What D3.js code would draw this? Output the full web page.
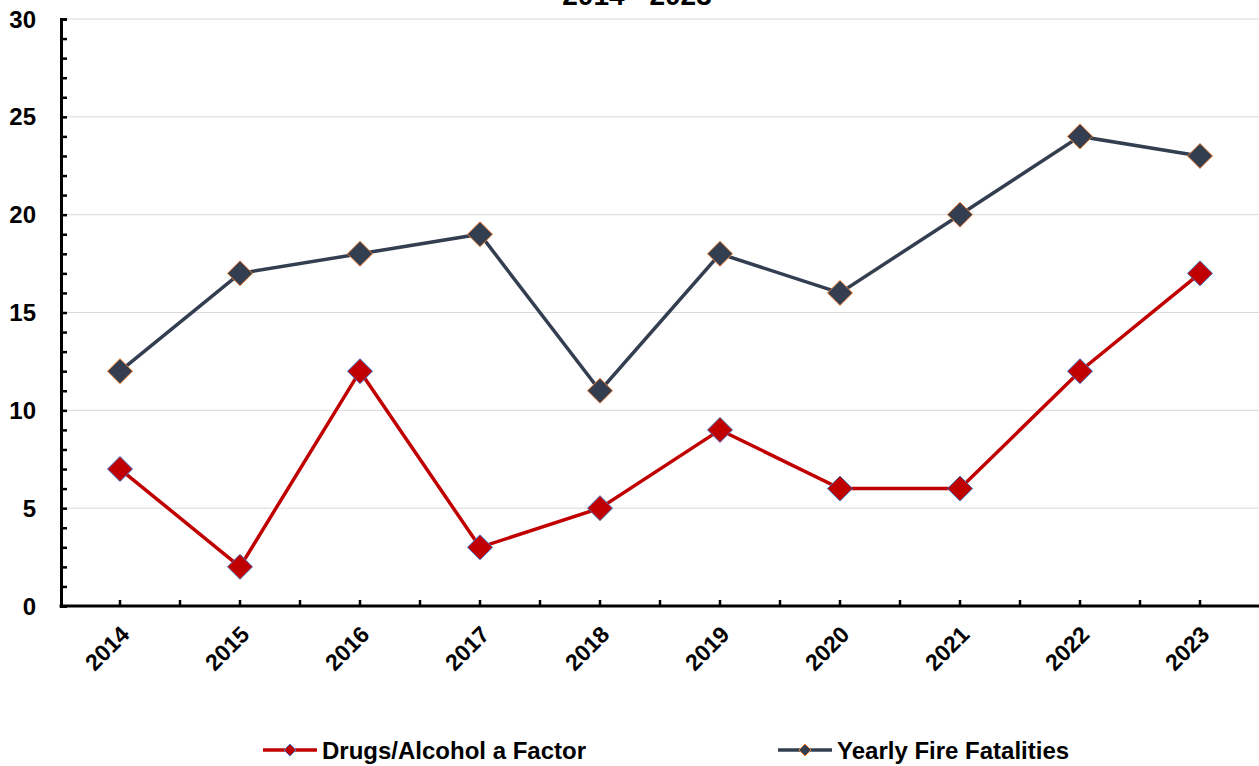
<!DOCTYPE html>
<html>
<head>
<meta charset="utf-8">
<script src="https://cdn.jsdelivr.net/npm/d3@7"></script>
<style>
  body { margin: 0; background: #fff; }
  text { font-family: Arial, "Liberation Sans", sans-serif; font-weight: bold; }
</style>
</head>
<body>
<div id="chart"></div>
<script>
const years = ['2014', '2015', '2016', '2017', '2018', '2019', '2020', '2021', '2022', '2023'];
const drugsAlcohol = [7, 2, 12, 3, 5, 9, 6, 6, 12, 17];
const yearlyFatalities = [12, 17, 18, 19, 11, 18, 16, 20, 24, 23];
const yTicks = [0, 5, 10, 15, 20, 25, 30];
const titleText = '2014 - 2023';

const width = 1259, height = 766;
const margin = { top: 19, right: 0, bottom: 160, left: 61 };

const svg = d3.select('#chart').append('svg')
  .attr('width', width)
  .attr('height', height);

const x = d3.scaleBand()
  .domain(years)
  .range([margin.left - 1, width + 1]);

const y = d3.scaleLinear()
  .domain([0, 30])
  .range([height - margin.bottom, margin.top]);

const xc = d => x(d) + x.bandwidth() / 2;

// title (cut off at the top edge, as in the source)
svg.append('text')
  .attr('x', 637)
  .attr('y', 5)
  .attr('text-anchor', 'middle')
  .attr('font-size', 28)
  .attr('fill', '#000')
  .text(titleText);

// grid
svg.append('g')
  .selectAll('line')
  .data(yTicks.filter(d => d > 0))
  .join('line')
  .attr('x1', margin.left)
  .attr('x2', width)
  .attr('y1', d => y(d))
  .attr('y2', d => y(d))
  .attr('stroke', '#d9d9d9')
  .attr('stroke-width', 1);

// y axis
const yAxis = d3.axisRight(y)
  .tickValues(d3.range(0, 31, 1))
  .tickSize(6)
  .tickFormat('');

svg.append('g')
  .attr('transform', `translate(${margin.left},0)`)
  .call(yAxis)
  .call(g => g.select('.domain').attr('stroke', '#000').attr('stroke-width', 3))
  .call(g => g.selectAll('.tick line').attr('stroke', '#000').attr('stroke-width', 2.5));

svg.append('g')
  .selectAll('text')
  .data(yTicks)
  .join('text')
  .attr('x', 36)
  .attr('y', d => y(d))
  .attr('dy', '0.36em')
  .attr('text-anchor', 'end')
  .attr('font-size', 24)
  .attr('fill', '#000')
  .text(d => d);

// x axis
const xEdges = [];
years.forEach(d => { xEdges.push(x(d)); xEdges.push(xc(d)); });

svg.append('line')
  .attr('x1', margin.left - 1.5)
  .attr('x2', width)
  .attr('y1', y(0))
  .attr('y2', y(0))
  .attr('stroke', '#000')
  .attr('stroke-width', 3);

svg.append('g')
  .selectAll('line')
  .data(xEdges.slice(1))
  .join('line')
  .attr('x1', d => d)
  .attr('x2', d => d)
  .attr('y1', y(0))
  .attr('y2', y(0) - 6)
  .attr('stroke', '#000')
  .attr('stroke-width', 2.5);

svg.append('g')
  .selectAll('text')
  .data(years)
  .join('text')
  .attr('transform', d => `translate(${xc(d) + 5},${y(0) + 24}) rotate(-45)`)
  .attr('text-anchor', 'end')
  .attr('dy', '0.36em')
  .attr('font-size', 23)
  .attr('fill', '#000')
  .text(d => d);

// series
const series = [
  { name: 'Drugs/Alcohol a Factor', values: drugsAlcohol, color: '#c00000', fill: '#c00000', stroke: '#4472c4' },
  { name: 'Yearly Fire Fatalities', values: yearlyFatalities, color: '#333f50', fill: '#333f50', stroke: '#ed7d31' }
];

const line = d3.line()
  .x((d, i) => xc(years[i]))
  .y(d => y(d));

const diamond = r => `M0,${-r}L${r},0L0,${r}L${-r},0Z`;

series.slice().reverse().forEach(s => {
  svg.append('path')
    .datum(s.values)
    .attr('d', line)
    .attr('fill', 'none')
    .attr('stroke', s.color)
    .attr('stroke-width', 3.5);

  svg.append('g')
    .selectAll('path')
    .data(s.values)
    .join('path')
    .attr('transform', (d, i) => `translate(${xc(years[i])},${y(d)})`)
    .attr('d', diamond(12.5))
    .attr('fill', s.fill)
    .attr('stroke', s.stroke)
    .attr('stroke-width', 1);
});

// legend
const legendX = [263, 778];
const legend = svg.append('g')
  .selectAll('g')
  .data(series)
  .join('g')
  .attr('transform', (d, i) => `translate(${legendX[i]},750)`);

legend.append('line')
  .attr('x1', 0).attr('x2', 54)
  .attr('stroke', d => d.color)
  .attr('stroke-width', 3.5);

legend.append('path')
  .attr('transform', 'translate(27,0)')
  .attr('d', diamond(6))
  .attr('fill', d => d.fill)
  .attr('stroke', d => d.stroke)
  .attr('stroke-width', 1);

legend.append('text')
  .attr('x', 59)
  .attr('dy', '0.36em')
  .attr('font-size', 24)
  .attr('fill', '#000')
  .text(d => d.name);
</script>
</body>
</html>
